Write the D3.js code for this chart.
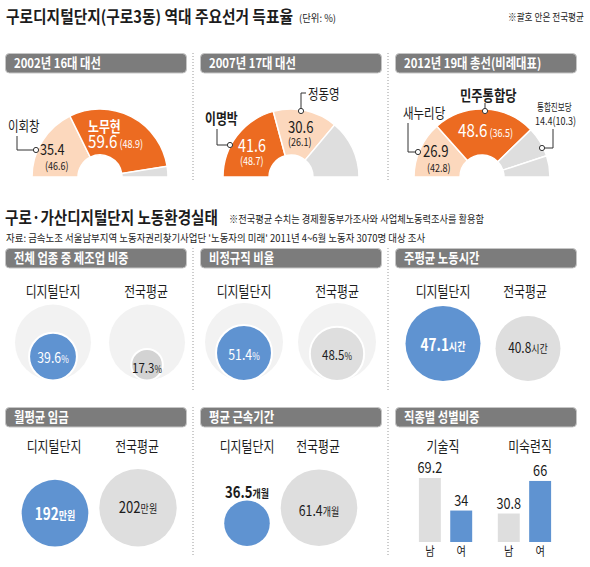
<!DOCTYPE html>
<html><head><meta charset="utf-8">
<script src="https://cdn.jsdelivr.net/npm/d3@7"></script>
<style>body{margin:0;background:#fff} svg{display:block} text{font-family:"Noto Sans CJK KR","Noto Sans",sans-serif}</style>
</head><body><svg id="c" width="590" height="567"></svg>
<script>
// ---------- data ----------
const electionTitles = ["2002년 16대 대선", "2007년 17대 대선", "2012년 19대 총선(비례대표)"];
const e2002Names = ["이회창", "노무현", "기타"];
const e2002Values = [35.4, 59.6, 5.0];
const e2002National = [46.6, 48.9, null];
const e2007Names = ["이명박", "정동영", "기타"];
const e2007Values = [41.6, 30.6, 27.8];
const e2007National = [48.7, 26.1, null];
const e2012Names = ["새누리당", "민주통합당", "통합진보당", "기타"];
const e2012Values = [26.9, 48.6, 14.4, 10.1];
const e2012National = [42.8, 36.5, 10.3, null];

const laborTitles = ["전체 업종 중 제조업 비중", "비정규직 비율", "주평균 노동시간", "월평균 임금", "평균 근속기간", "직종별 성별비중"];
const groups = ["디지털단지", "전국평균"];
const manufShare = [39.6, 17.3];
const irregularRate = [51.4, 48.5];
const weeklyHours = [47.1, 40.8];
const monthlyWage = [192, 202];
const tenureMonths = [36.5, 61.4];
const jobTypes = ["기술직", "미숙련직"];
const sexes = ["남", "여"];
const techShare = [69.2, 34];
const unskilledShare = [30.8, 66];

// ---------- helpers ----------
const svg = d3.select("#c");
const C = {orange:"#ec6b21", peach:"#fcd8bd", grey:"#dedede", blue:"#5f93d1", bgc:"#f2f2f2", head:"#7c7c7c", ink:"#1c1c1c"};

function T(p, x, y, parts, o = {}) {
  const sx = o.sx ?? 0.82;
  const g = p.append("g").attr("transform", `translate(${x},${y}) scale(${sx},1)`);
  const t = g.append("text").attr("text-anchor", o.anchor || "start")
    .attr("fill", o.fill || C.ink).attr("font-weight", o.weight || "normal")
    .attr("font-size", o.size || 12);
  if (typeof parts === "string") parts = [[parts]];
  parts.forEach(([s, sz, w]) => {
    const ts = t.append("tspan").text(s);
    if (sz) ts.attr("font-size", sz);
    if (w) ts.attr("font-weight", w);
  });
  if (o.len) {
    const w = t.node().getComputedTextLength();
    g.attr("transform", `translate(${x},${y}) scale(${o.len / w},1)`);
  }
  return t;
}
function header(x, y, w, label) {
  svg.append("rect").attr("x", x + 0.5).attr("y", y + 0.5).attr("width", w).attr("height", 19.5).attr("rx", 4)
    .attr("fill", C.head).attr("stroke", "#c6c6c6");
  T(svg, x + 9, y + 15, label, {fill:"#fff", weight:"bold", size:13.5, sx:0.84});
}
function sep(x, y1, y2) {
  svg.append("line").attr("x1", x).attr("x2", x).attr("y1", y1).attr("y2", y2)
    .attr("stroke", "#9a9a9a").attr("stroke-dasharray", "1,2");
}
function marker(x, y) {
  svg.append("circle").attr("cx", x).attr("cy", y).attr("r", 2.6).attr("fill", "#fff").attr("stroke", "#333").attr("stroke-width", 1);
}
function leader(d) {
  svg.append("path").attr("d", d).attr("fill", "none").attr("stroke", "#333").attr("stroke-width", 1);
}
const f1 = v => v.toFixed(1);

// ---------- section 1 ----------
T(svg, 6, 23, "구로디지털단지(구로3동) 역대 주요선거 득표율", {size:16.5, weight:"bold", len:287});
T(svg, 299, 22, "(단위: %)", {size:10, len:37});
T(svg, 508, 21, "※괄호 안은 전국평균", {size:10, len:76});

const headX = [5, 200, 395];
electionTitles.forEach((t, i) => header(headX[i], 53, 181, t));
sep(193, 53, 180); sep(388, 53, 180);

const donuts = [
  {values:e2002Values, colors:[C.peach, C.orange, C.grey], cx:100},
  {values:e2007Values, colors:[C.orange, C.peach, C.grey], cx:291},
  {values:e2012Values, colors:[C.peach, C.orange, C.grey, C.grey], cx:482}
];
const baseY = 177;
const pie = d3.pie().sort(null).startAngle(-Math.PI / 2).endAngle(Math.PI / 2);
const arc = d3.arc().innerRadius(22).outerRadius(68);
donuts.forEach(d => {
  const g = svg.append("g").attr("transform", `translate(${d.cx},${baseY})`);
  g.selectAll("path").data(pie(d.values)).join("path")
    .attr("d", arc).attr("fill", (p, i) => d.colors[i])
    .attr("stroke", "#fff").attr("stroke-width", 1.5);
});

// 2002 labels
T(svg, 8, 131, e2002Names[0], {size:14});
leader("M17,136V150H33.4"); marker(36, 150);
T(svg, 40, 155, f1(e2002Values[0]), {size:15.5});
T(svg, 45, 169.5, `(${f1(e2002National[0])})`, {size:11});
T(svg, 88, 132, e2002Names[1], {size:14.5, weight:"bold", fill:"#fff"});
T(svg, 88, 148, [[f1(e2002Values[1]), 18.5], [` (${f1(e2002National[1])})`, 11]], {fill:"#fff"});

// 2007 labels
T(svg, 205, 124, e2007Names[0], {size:14.5, weight:"bold"});
leader("M217,129V145H227.4"); marker(230, 145);
T(svg, 238, 152, f1(e2007Values[0]), {size:17.5, fill:"#fff"});
T(svg, 240, 165, `(${f1(e2007National[0])})`, {size:11, fill:"#fff"});
T(svg, 308, 98.5, e2007Names[1], {size:14});
leader("M301,108.4V93H306"); marker(301, 111);
T(svg, 288, 133, f1(e2007Values[1]), {size:16});
T(svg, 288, 145.5, `(${f1(e2007National[1])})`, {size:11});

// 2012 labels
T(svg, 403, 118, e2012Names[0], {size:14});
leader("M408,123V152H415.4"); marker(418, 152);
T(svg, 423, 157, f1(e2012Values[0]), {size:16});
T(svg, 427, 171.5, `(${f1(e2012National[0])})`, {size:11});
T(svg, 460, 100.5, e2012Names[1], {size:15, weight:"bold"});
leader("M485,108.4V103"); marker(485, 111);
T(svg, 458, 136.5, [[f1(e2012Values[1]), 18.5], [` (${f1(e2012National[1])})`, 11]], {fill:"#fff"});
T(svg, 537, 110.5, e2012Names[2], {size:10.5, sx:0.72});
T(svg, 535, 124.5, `${f1(e2012Values[2])}(${f1(e2012National[2])})`, {size:11});
leader("M544.6,148H553V129"); marker(542, 148);

// ---------- section 2 ----------
T(svg, 5, 224, "구로·가산디지털단지 노동환경실태", {size:16.5, weight:"bold", len:213});
T(svg, 229, 223, "※전국평균 수치는 경제활동부가조사와 사업체노동력조사를 활용함", {size:10, len:255});
T(svg, 6, 242, "자료: 금속노조 서울남부지역 노동자권리찾기사업단 '노동자의 미래' 2011년 4~6월 노동자 3070명 대상 조사", {size:10, len:419});

const row1 = 248, row2 = 407;
laborTitles.forEach((t, i) => header(headX[i % 3], i < 3 ? row1 : row2, 181, t));
sep(193, row1, 390); sep(388, row1, 390);
sep(193, row2, 556); sep(388, row2, 556);

function groupLabels(xs, y, labels) {
  labels.forEach((l, i) => T(svg, xs[i], y, l, {size:14.5, anchor:"middle"}));
}

// circle panel
function circlePanel(cfg) {
  const {xs, bottom, r, values, bgR, labels} = cfg;
  values.forEach((v, i) => {
    if (bgR) svg.append("circle").attr("cx", xs[i]).attr("cy", bottom - bgR).attr("r", bgR).attr("fill", C.bgc);
    const rr = r(v);
    svg.append("circle").attr("cx", xs[i]).attr("cy", bottom - rr).attr("r", rr)
      .attr("fill", i === 0 ? C.blue : (cfg.greyFill || C.grey))
      .attr("stroke", bgR ? "#fff" : "none").attr("stroke-width", 2);
    const lb = labels[i];
    T(svg, xs[i] + (lb.dx || 0), lb.y, [[lb.num, lb.size || 15], [lb.unit, lb.usize || 10]],
      {anchor:"middle", fill: i === 0 && !lb.dark ? "#fff" : C.ink, weight: lb.weight || "normal"});
  });
}

// panel 1
groupLabels([53, 146], 297, groups);
circlePanel({xs:[53, 147], bottom:380.5, bgR:38, values:manufShare,
  r:d3.scaleSqrt().domain([0, 100]).range([0, 38]), greyFill:"#d3d3d3",
  labels:[{num:f1(manufShare[0]), unit:"%", y:362.5}, {num:f1(manufShare[1]), unit:"%", y:373, size:14}]});
// panel 2
groupLabels([244, 337], 297, groups);
circlePanel({xs:[244, 337], bottom:381, bgR:39, values:irregularRate,
  r:d3.scaleSqrt().domain([0, 100]).range([0, 39]),
  labels:[{num:f1(irregularRate[0]), unit:"%", y:360}, {num:f1(irregularRate[1]), unit:"%", y:360, size:14}]});
// panel 3
groupLabels([443, 525], 297, groups);
circlePanel({xs:[443, 528], bottom:381, values:weeklyHours,
  r:d3.scaleLinear().domain([0, 50]).range([0, 39.8]),
  labels:[{num:f1(weeklyHours[0]), unit:"시간", y:350.5, size:16.5, usize:11, weight:"bold"}, {num:f1(weeklyHours[1]), unit:"시간", y:353, size:14.5, usize:11}]});
// panel 4
groupLabels([54, 137], 452, groups);
circlePanel({xs:[55, 138], bottom:546.5, values:monthlyWage,
  r:d3.scaleLinear().domain([130, 202]).range([0, 38.7]),
  labels:[{num:String(monthlyWage[0]), unit:"만원", y:520, size:16.5, usize:11, weight:"bold"}, {num:String(monthlyWage[1]), unit:"만원", y:512.5, size:16, usize:11}]});
// panel 5
groupLabels([247, 318], 452, groups);
circlePanel({xs:[247, 319], bottom:546, values:tenureMonths,
  r:d3.scaleLinear().domain([0, 61.4]).range([0, 38.3]),
  labels:[{num:f1(tenureMonths[0]), unit:"개월", y:497.5, size:16, usize:11, dark:true, weight:"bold"}, {num:f1(tenureMonths[1]), unit:"개월", y:516, size:15, usize:11}]});

// panel 6 bars
groupLabels([443, 530], 452, jobTypes);
const y = d3.scaleLinear().domain([0, 100]).range([542, 449.5]);
const groupX = d3.scaleBand().domain(jobTypes).range([412, 558]).paddingInner(0.15).paddingOuter(0.0);
const sexX = d3.scaleBand().domain(sexes).range([0, groupX.bandwidth()]).paddingInner(0.3).paddingOuter(0.22);
const barData = [];
[techShare, unskilledShare].forEach((arr, gi) => arr.forEach((v, si) => barData.push({job:jobTypes[gi], sex:sexes[si], v})));
barData.forEach(d => {
  const x = groupX(d.job) + sexX(d.sex);
  svg.append("rect").attr("x", x).attr("y", y(d.v)).attr("width", sexX.bandwidth()).attr("height", y(0) - y(d.v))
    .attr("fill", d.sex === "남" ? C.grey : C.blue);
  T(svg, x + sexX.bandwidth() / 2, y(d.v) - 5, String(d.v), {size:15.5, anchor:"middle"});
  T(svg, x + sexX.bandwidth() / 2, 556, d.sex, {size:12.5, anchor:"middle"});
});
</script></body></html>
